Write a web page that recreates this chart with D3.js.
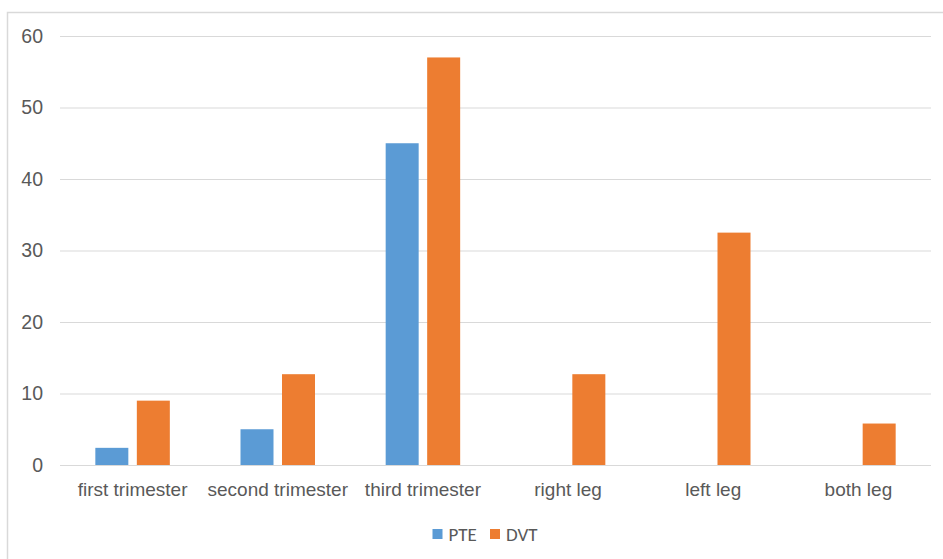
<!DOCTYPE html>
<html><head><meta charset="utf-8">
<script src="https://cdn.jsdelivr.net/npm/d3@7"></script>
<style>body{margin:0;background:#fff;}svg{display:block;font-family:Calibri,Carlito,"Open Sans","Liberation Sans",sans-serif;}</style>
</head><body>
<svg id="c" width="943" height="559"></svg>
<script>
const categories = ["first trimester","second trimester","third trimester","right leg","left leg","both leg"];
const seriesNames = ["PTE","DVT"];
const pteValues = [2.4, 5.0, 45, null, null, null];
const dvtValues = [9.0, 12.7, 57, 12.7, 32.5, 5.8];
const yTicks = [0,10,20,30,40,50,60];
const colors = ["#5B9BD5","#ED7D31"];

(function(){
const svg = d3.select("#c");
svg.append("rect").attr("x",7.5).attr("y",12.5).attr("width",950).attr("height",560)
  .attr("fill","#fff").attr("stroke","#d9d9d9").attr("stroke-width",1.5);

const mL=60, mR=931, mT=36, mB=465;
const x = d3.scaleBand().domain(categories).range([mL,mR]).paddingInner(0).paddingOuter(0);
const y = d3.scaleLinear().domain([0,60]).range([mB,mT]);
const bw = 33, gap = 8.5;

const gy = svg.append("g").attr("transform",`translate(${mL},0)`)
  .call(d3.axisLeft(y).tickValues(yTicks).tickSize(-(mR-mL)).tickPadding(17));
gy.select(".domain").remove();
gy.selectAll(".tick line").attr("stroke","#d9d9d9").attr("stroke-width",1);
gy.selectAll(".tick text").attr("fill","#595959").style("font-size","19.5px");

const series = [pteValues, dvtValues];
series.forEach((vals,si)=>{
  svg.append("g").selectAll("rect").data(categories.map((c,i)=>({c,v:vals[i]})).filter(d=>d.v!=null))
    .join("rect")
    .attr("x",d=>x(d.c)+x.bandwidth()/2 + (si===0 ? -gap/2-bw : gap/2))
    .attr("y",d=>y(d.v)).attr("width",bw).attr("height",d=>y(0)-y(d.v))
    .attr("fill",colors[si]);
});

const gx = svg.append("g").attr("transform",`translate(0,${mB})`)
  .call(d3.axisBottom(x).tickSize(0).tickPadding(18));
gx.select(".domain").remove();
gx.selectAll(".tick text").attr("fill","#595959").style("font-size","19px");

const lg = svg.append("g");
const items = [{n:seriesNames[0],x:432.5,c:colors[0]},{n:seriesNames[1],x:490,c:colors[1]}];
items.forEach(it=>{
  lg.append("rect").attr("x",it.x).attr("y",529).attr("width",10).attr("height",10).attr("fill",it.c);
  lg.append("text").attr("x",it.x+16).attr("y",534).attr("dy","0.35em").attr("fill","#595959")
    .style("font-size","19px").text(it.n);
});
})();
</script>
</body></html>
